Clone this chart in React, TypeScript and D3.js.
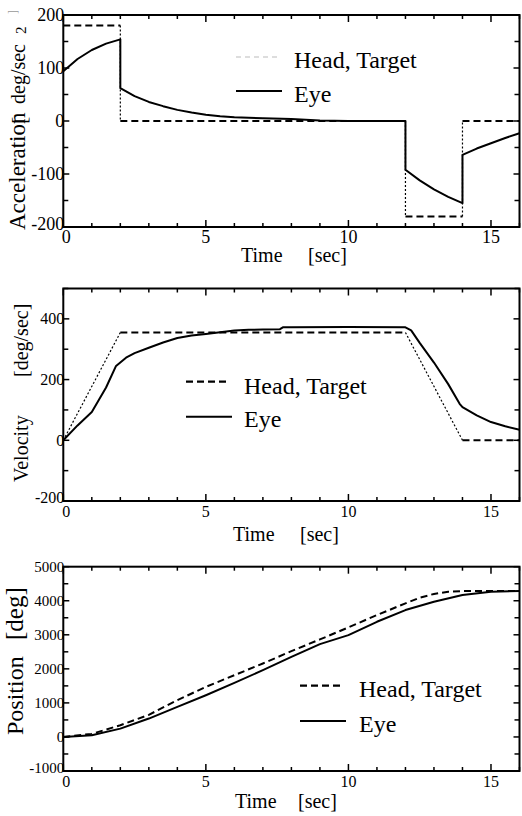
import React from "react";
import * as d3 from "d3";

// ---------- data ----------
const timeMajorTicks = [0, 5, 10, 15];
const timeMinorTicks = [0, 1, 2, 3, 4, 5, 6, 7, 8, 9, 10, 11, 12, 13, 14, 15, 16];

// Acceleration [deg/sec^2]
const accelHeadT = [0, 2, 2, 12, 12, 14, 14, 16];
const accelHeadV = [180, 180, 0, 0, -180, -180, 0, 0];
const accelEyeT = [0, 0.5, 1, 1.5, 2, 2, 2.5, 3, 3.5, 4, 4.5, 5, 5.5, 6, 6.5, 7, 8, 9, 10, 12, 12, 12.5, 13, 13.5, 14, 14, 14.5, 15, 15.5, 16];
const accelEyeV = [94, 117, 134, 146, 154, 62, 47, 36, 28, 21, 16, 12, 9, 7, 6, 5, 4, 1, 0, 0, -92, -112, -129, -143, -155, -64, -52, -42, -32, -23];
const accelTicksMajor = [-200, -100, 0, 100, 200];
const accelTicksMinor = [-200, -150, -100, -50, 0, 50, 100, 150, 200];

// Velocity [deg/sec]
const velHeadT = [0, 2, 12, 14, 16];
const velHeadV = [0, 355, 355, 0, 0];
const velEyeT = [0, 0.5, 1, 1.5, 1.85, 2.2, 2.5, 3, 3.5, 4, 4.5, 5, 5.5, 6, 6.5, 7, 7.6, 7.7, 8, 10, 12, 12.2, 12.5, 13, 13.5, 13.9, 14, 14.5, 15, 15.5, 16];
const velEyeV = [0, 49, 93, 174, 245, 272, 287, 305, 322, 337, 345, 350, 356, 362, 364, 365, 366, 372, 372, 373, 372, 362, 321, 256, 185, 120, 109, 82, 60, 46, 35];
const velTicksMajor = [-200, 0, 200, 400];
const velTicksMinor = [-200, -100, 0, 100, 200, 300, 400, 500];

// Position [deg]
const posHeadT = [0, 1, 2, 3, 4, 5, 6, 7, 8, 9, 10, 11, 12, 12.5, 13, 13.5, 14, 16];
const posHeadV = [0, 90, 344, 650, 1080, 1470, 1814, 2158, 2520, 2864, 3217, 3580, 3923, 4090, 4200, 4265, 4285, 4285];
const posEyeT = [0, 1, 2, 3, 4, 5, 6, 7, 8, 9, 10, 11, 12, 13, 14, 15, 16];
const posEyeV = [0, 50, 245, 540, 882, 1226, 1588, 1961, 2353, 2726, 2990, 3382, 3726, 3970, 4167, 4265, 4290];
const posTicksMajor = [-1000, 0, 1000, 2000, 3000, 4000, 5000];
const posTicksMinor = [-1000, -500, 0, 500, 1000, 1500, 2000, 2500, 3000, 3500, 4000, 4500, 5000];

const legendHead = "Head, Target";
const legendEye = "Eye";

// ---------- drawing ----------
const FONT = "'Liberation Serif', 'Times New Roman', Times, serif";
const X_LEFT = 63.3;
const X_RIGHT = 519.5;

type Pt = [number, number];

function zip(t: number[], v: number[]): Pt[] {
  return t.map((d, i) => [d, v[i]] as Pt);
}

function splitSteep(pts: Pt[]) {
  const groups: { steep: boolean; pts: Pt[] }[] = [];
  for (let i = 1; i < pts.length; i++) {
    const [x0, y0] = pts[i - 1];
    const [x1, y1] = pts[i];
    const steep = Math.abs(y1 - y0) > Math.abs(x1 - x0) * 1.2;
    const last = groups[groups.length - 1];
    if (last && last.steep === steep) last.pts.push([x1, y1]);
    else groups.push({ steep, pts: [[x0, y0], [x1, y1]] });
  }
  return groups;
}

type PanelCfg = {
  yDomain: [number, number];
  yRange: [number, number];
  yMajor: number[];
  yMinor: number[];
  yTickFont: number;
  xTickFont: number;
  xTickBaseline: number;
  head: Pt[];
  eye: Pt[];
};

function Panel({ cfg }: { cfg: PanelCfg }) {
  const x = d3.scaleLinear().domain([0, 16]).range([X_LEFT, X_RIGHT]);
  const y = d3.scaleLinear().domain(cfg.yDomain).range(cfg.yRange);
  const line = d3.line<Pt>().x((d) => d[0]).y((d) => d[1]);
  const headPx: Pt[] = cfg.head.map((d) => [x(d[0]), y(d[1])]);
  const eyePx: Pt[] = cfg.eye.map((d) => [x(d[0]), y(d[1])]);
  const groups = splitSteep(headPx);
  const yTop = cfg.yRange[1];
  const yBot = cfg.yRange[0];
  const isMajorX = (t: number) => timeMajorTicks.includes(t);
  const isMajorY = (v: number) => cfg.yMajor.includes(v);
  return (
    <g>
      {groups.map((g, i) => (
        <path
          key={"h" + i}
          d={line(g.pts) || ""}
          fill="none"
          stroke="#000"
          strokeWidth={g.steep ? 1.2 : 2}
          strokeDasharray={g.steep ? "2,2" : "7,4"}
        />
      ))}
      <path d={line(eyePx) || ""} fill="none" stroke="#000" strokeWidth={2} strokeLinejoin="round" />
      <rect x={X_LEFT} y={yTop} width={X_RIGHT - X_LEFT} height={yBot - yTop} fill="none" stroke="#000" strokeWidth={2} />
      {timeMinorTicks.map((t) => {
        const len = isMajorX(t) ? 7 : 4;
        return (
          <g key={"xt" + t}>
            <line x1={x(t)} x2={x(t)} y1={yBot} y2={yBot - len} stroke="#000" strokeWidth={1.5} />
            <line x1={x(t)} x2={x(t)} y1={yTop} y2={yTop + len} stroke="#000" strokeWidth={1.5} />
          </g>
        );
      })}
      {cfg.yMinor.map((v) => {
        const len = isMajorY(v) ? 6 : 5;
        return (
          <g key={"yt" + v}>
            <line x1={X_LEFT} x2={X_LEFT + len} y1={y(v)} y2={y(v)} stroke="#000" strokeWidth={1.5} />
            <line x1={X_RIGHT} x2={X_RIGHT - len} y1={y(v)} y2={y(v)} stroke="#000" strokeWidth={1.5} />
          </g>
        );
      })}
      {cfg.yMajor.map((v) => (
        <text
          key={"yl" + v}
          x={X_LEFT + 1}
          y={y(v)}
          dy={v === cfg.yDomain[0] ? "0.15em" : "0.35em"}
          textAnchor="end"
          fontSize={cfg.yTickFont}
          fontFamily={FONT}
          fill="#000"
        >
          {v}
        </text>
      ))}
      {timeMajorTicks.map((t) => (
        <text
          key={"xl" + t}
          x={x(t) + (t === 0 ? 3 : 0)}
          y={cfg.xTickBaseline}
          textAnchor="middle"
          fontSize={cfg.xTickFont}
          fontFamily={FONT}
          fill="#000"
        >
          {t}
        </text>
      ))}
    </g>
  );
}

function TimeLabel({ xTime, xSec, baseline }: { xTime: number; xSec: number; baseline: number }) {
  return (
    <g fontFamily={FONT} fontSize={20} fill="#000">
      <text x={xTime} y={baseline}>Time</text>
      <text x={xSec} y={baseline}>[sec]</text>
    </g>
  );
}

function RotText({ x, y, size, children, fill }: { x: number; y: number; size: number; children: any; fill?: string }) {
  return (
    <text transform={`translate(${x},${y}) rotate(-90)`} fontFamily={FONT} fontSize={size} fill={fill || "#000"}>
      {children}
    </text>
  );
}

function Legend({ x0, x1dash, x1solid, yDash, ySolid, xText, headBase, eyeBase, lightDash }: any) {
  return (
    <g>
      <line
        x1={x0}
        x2={x1dash}
        y1={yDash}
        y2={yDash}
        stroke={lightDash ? "#bbb" : "#000"}
        strokeWidth={lightDash ? 1 : 2.2}
        strokeDasharray={lightDash ? "5,4" : "7,4"}
      />
      <line x1={x0} x2={x1solid} y1={ySolid} y2={ySolid} stroke="#000" strokeWidth={2} />
      <text x={xText} y={headBase} fontFamily={FONT} fontSize={24} fill="#000">{legendHead}</text>
      <text x={xText} y={eyeBase} fontFamily={FONT} fontSize={24} fill="#000">{legendEye}</text>
    </g>
  );
}

export default function App() {
  const accel: PanelCfg = {
    yDomain: [-200, 200],
    yRange: [227, 15],
    yMajor: accelTicksMajor,
    yMinor: accelTicksMinor,
    yTickFont: 18,
    xTickFont: 18,
    xTickBaseline: 243,
    head: zip(accelHeadT, accelHeadV),
    eye: zip(accelEyeT, accelEyeV),
  };
  const vel: PanelCfg = {
    yDomain: [-200, 500],
    yRange: [501, 288.5],
    yMajor: velTicksMajor,
    yMinor: velTicksMinor,
    yTickFont: 16,
    xTickFont: 16,
    xTickBaseline: 517,
    head: zip(velHeadT, velHeadV),
    eye: zip(velEyeT, velEyeV),
  };
  const pos: PanelCfg = {
    yDomain: [-1000, 5000],
    yRange: [771, 566.7],
    yMajor: posTicksMajor,
    yMinor: posTicksMinor,
    yTickFont: 15,
    xTickFont: 16,
    xTickBaseline: 787,
    head: zip(posHeadT, posHeadV),
    eye: zip(posEyeT, posEyeV),
  };
  return (
    <svg
      width={522}
      height={816}
      viewBox="0 0 522 816"
      style={{ position: "absolute", left: 0, top: 0, background: "#fff" }}
    >
      <rect x={0} y={0} width={522} height={816} fill="#fff" />
      <Panel cfg={accel} />
      <Panel cfg={vel} />
      <Panel cfg={pos} />

      <Legend x0={236} x1dash={277} x1solid={282} yDash={57} ySolid={91} xText={294} headBase={68} eyeBase={102} lightDash />
      <Legend x0={186} x1dash={227} x1solid={232} yDash={381.7} ySolid={416.7} xText={244} headBase={394} eyeBase={427} />
      <Legend x0={300} x1dash={343} x1solid={346} yDash={685.7} ySolid={721} xText={359} headBase={697} eyeBase={732} />

      <TimeLabel xTime={241} xSec={308} baseline={262} />
      <TimeLabel xTime={233} xSec={300} baseline={541} />
      <TimeLabel xTime={235} xSec={298} baseline={808} />

      <RotText x={25} y={230} size={23}>Acceleration</RotText>
      <RotText x={26} y={124} size={22}>[</RotText>
      <RotText x={25} y={104} size={20}>deg/sec</RotText>
      <RotText x={26} y={34} size={15}>2</RotText>
      <RotText x={17} y={14} size={12} fill="#999">]</RotText>

      <RotText x={28} y={482} size={20}>Velocity</RotText>
      <RotText x={28} y={377} size={20}>[deg/sec]</RotText>

      <RotText x={23} y={735} size={24}>Position</RotText>
      <RotText x={23} y={640} size={25}>[deg]</RotText>
    </svg>
  );
}
